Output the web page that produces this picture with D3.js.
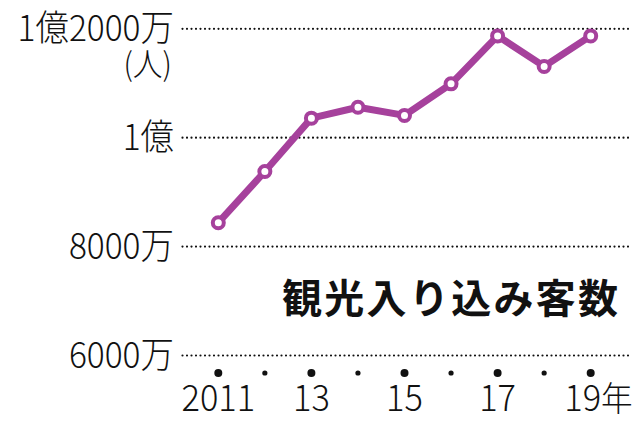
<!DOCTYPE html>
<html>
<head>
<meta charset="utf-8">
<script src="https://cdn.jsdelivr.net/npm/d3@7"></script>
<style>
  body { margin: 0; background: #fff; }
  svg { display: block; }
  text { font-family: "Noto Sans CJK JP", sans-serif; font-weight: 300; fill: #111; }
</style>
</head>
<body>
<script>
// 観光入り込み客数 (万人)
var years = [2011, 2012, 2013, 2014, 2015, 2016, 2017, 2018, 2019];
var visitors = [8430, 9370, 10350, 10550, 10400, 10980, 11860, 11300, 11860];
var yTicks = [6000, 8000, 10000, 12000];
var yTickLabels = ["6000万", "8000万", "1億", "1億2000万"];
var xLabelYears = [2011, 2013, 2015, 2017, 2019];
var xLabels = ["2011", "13", "15", "17", "19"];
var title = "観光入り込み客数";
var unit = "(人)";

var width = 640, height = 421;
var purple = "#a6419c";
var sx = 0.93;   // 少し細長い書体に見せるための横縮小

var svg = d3.select("body").append("svg")
    .attr("width", width)
    .attr("height", height);

var x = d3.scaleLinear()
    .domain([2011, 2019])
    .range([218.3, 590.7]);

var y = d3.scaleLinear()
    .domain([6000, 12000])
    .range([355, 28.3]);

// y軸 + 点線グリッド
var yAxis = d3.axisLeft(y)
    .tickValues(yTicks)
    .tickSize(448)
    .tickPadding(7)
    .tickFormat(function(d) { return yTickLabels[yTicks.indexOf(d)]; });

var gy = svg.append("g")
    .attr("transform", "translate(628,0)")
    .call(yAxis);

gy.select(".domain").remove();
gy.selectAll(".tick line")
    .attr("stroke", "#111")
    .attr("stroke-width", 2.2)
    .attr("stroke-linecap", "round")
    .attr("stroke-dasharray", "0,4.5");
gy.selectAll(".tick text")
    .attr("font-size", "36px")
    .attr("x", -(448 + 6) / sx)
    .attr("dy", "0.35em")
    .attr("transform", "scale(" + sx + ",1)")
    .style("font-family", "'Noto Sans CJK JP', sans-serif")
    .style("font-weight", 300)
    .style("fill", "#111");

// (人)
svg.append("text")
    .attr("transform", "translate(172," + (y(12000) + 48) + ") scale(" + sx + ",1)")
    .attr("text-anchor", "end")
    .attr("font-size", "32px")
    .text(unit);

// x軸の点
svg.selectAll("circle.tick-dot")
    .data(years)
    .enter().append("circle")
    .attr("class", "tick-dot")
    .attr("cx", function(d) { return x(d); })
    .attr("cy", 373)
    .attr("r", function(d) { return xLabelYears.indexOf(d) >= 0 ? 4 : 2.6; })
    .attr("fill", "#111");

// x軸ラベル (最後の「19年」は左寄せ気味に置く)
var xl = svg.selectAll("text.xlab")
    .data(xLabelYears)
    .enter().append("text")
    .attr("class", "xlab")
    .attr("transform", function(d) {
      var dx = d === 2019 ? -8 : 0;
      return "translate(" + (x(d) + dx) + ",411) scale(" + sx + ",1)";
    })
    .attr("text-anchor", "middle")
    .attr("font-size", "37px")
    .text(function(d, i) { return xLabels[i]; });

var last = xl.filter(function(d) { return d === 2019; });
var lastW = last.node().getComputedTextLength() * sx;
svg.append("text")
    .attr("transform", "translate(" + (x(2019) - 8 + lastW / 2) + ",411) scale(" + sx + ",1)")
    .attr("font-size", "34px")
    .text("年");

// タイトル
svg.append("text")
    .attr("x", 282)
    .attr("y", 313)
    .attr("font-size", "40px")
    .attr("letter-spacing", "2.3px")
    .style("font-weight", 700)
    .text(title);

// 折れ線
var line = d3.line()
    .x(function(d, i) { return x(years[i]); })
    .y(function(d) { return y(d); });

svg.append("path")
    .datum(visitors)
    .attr("d", line)
    .attr("fill", "none")
    .attr("stroke", purple)
    .attr("stroke-width", 7)
    .attr("stroke-linejoin", "round");

svg.selectAll("circle.pt")
    .data(visitors)
    .enter().append("circle")
    .attr("class", "pt")
    .attr("cx", function(d, i) { return x(years[i]); })
    .attr("cy", function(d) { return y(d); })
    .attr("r", 5.5)
    .attr("fill", "#fff")
    .attr("stroke", purple)
    .attr("stroke-width", 4);
</script>
</body>
</html>
